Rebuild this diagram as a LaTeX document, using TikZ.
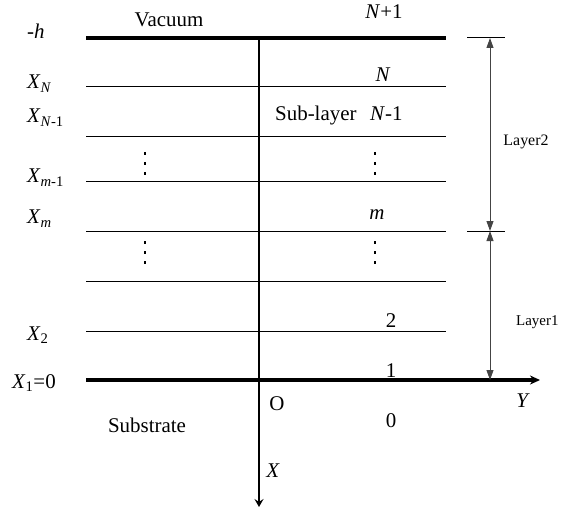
\documentclass[tikz,border=0pt]{standalone}
\usepackage{fontspec}
\setmainfont{Liberation Serif}
\usetikzlibrary{
  arrows.meta,
  positioning,
  calc
}
\definecolor{slDim}{HTML}{444444}
\newcommand{\Xsub}[1]{\textit{X}\textsubscript{#1}}
\tikzset{
  sublayer/.style={line width=1pt, black},
  boundary/.style={line width=3.6pt, black},
  xaxisline/.style={line width=1.8pt, -{Stealth[length=8bp, width=9bp, inset=3bp]}},
  yaxisline/.style={boundary, -{Stealth[length=10bp, width=9bp]}},
  dimline/.style={line width=0.9pt, slDim, {Triangle[length=10bp, width=7bp]}-{Triangle[length=10bp, width=7bp]}},
  dimtick/.style={line width=1pt, black},
  vdotsline/.style={line width=2.8bp, dash pattern=on 3bp off 7bp},
  lbl/.style={font=\fontsize{21}{24}\selectfont, inner sep=0pt, anchor=base},
  lblw/.style={lbl, anchor=base west},
  smalllbl/.style={font=\fontsize{16}{18}\selectfont, inner sep=0pt, anchor=base}
}
\begin{document}
\begin{tikzpicture}[x=1bp, y=-1bp]
  \useasboundingbox (0,0) rectangle (561,510);
  % boundaries and sub-layer lines
  \coordinate (top-l) at (86,38);
  \coordinate (top-r) at (446,38);
  \draw[boundary] (top-l) -- (top-r);
  \foreach \yy/\nm in {87/xn, 136/xnm, 181/xmm, 231/xm, 281/xk, 331/xtwo}{
    \coordinate (\nm-l) at (86,\yy);
    \coordinate (\nm-r) at (446,\yy);
    \draw[sublayer] (\nm-l) -- (\nm-r);
  }
  \coordinate (bot-l) at (86,380);
  \coordinate (yend) at (540,380);
  \draw[yaxisline] (bot-l) -- (yend);
  \coordinate (xtop) at (259,38);
  \coordinate (xend) at (259,507);
  \draw[xaxisline] (xtop) -- (xend);
  % dots
  \foreach \xx in {145,375}{
    \foreach \yy in {152,241}{\draw[vdotsline] (\xx,\yy) -- ++(0,24);}
  }
  % layer dimensions
  \coordinate (d2-top) at (490,38);
  \coordinate (d2-bot) at (490,231);
  \coordinate (d1-bot) at (490,380);
  \draw[dimtick] (467,38) -- (505,38);
  \draw[dimtick] (467,231) -- (505,231);
  \draw[dimline] (d2-top) -- (d2-bot);
  \draw[dimline] (d2-bot) -- (d1-bot);
  \node[smalllbl] (layer2) at (526,146) {Layer2};
  \node[smalllbl, font=\fontsize{15}{17}\selectfont, anchor=base west] (layer1) at (516,325) {Layer1};
  % left labels
  \node[lblw] (lh) at (27,39) {-\textit{h}};
  \node[lblw] (lxn) at (27,89) {\Xsub{\textit{N}}};
  \node[lblw] (lxnm) at (27,123) {\Xsub{\textit{N}-1}};
  \node[lblw] (lxmm) at (27,183) {\Xsub{\textit{m}-1}};
  \node[lblw] (lxm) at (27,224) {\Xsub{\textit{m}}};
  \node[lblw] (lxtwo) at (27,340) {\Xsub{2}};
  \node[lblw] (lxone) at (12,388) {\Xsub{1}=0};
  % right labels
  \node[lbl] (vacuum) at (169,27) {Vacuum};
  \node[lbl] (nplus) at (384,19) {\textit{N}+1};
  \node[lbl] (nn) at (383,82) {\textit{N}};
  \node[lblw] (sublbl) at (275,121) {Sub-layer};
  \node[lblw] (nminus) at (370,121) {\textit{N}-1};
  \node[lbl] (mm) at (377,220) {\textit{m}};
  \node[lbl] (two) at (391,327) {2};
  \node[lbl] (one) at (391,377) {1};
  \node[lbl] (origin) at (277,410) {O};
  \node[lbl] (zero) at (391,427) {0};
  \node[lbl] (ylbl) at (523,407) {\textit{Y}};
  \node[lbl] (substrate) at (147,432) {Substrate};
  \node[lbl] (xlbl) at (273,477) {\textit{X}};
\end{tikzpicture}
\end{document}
